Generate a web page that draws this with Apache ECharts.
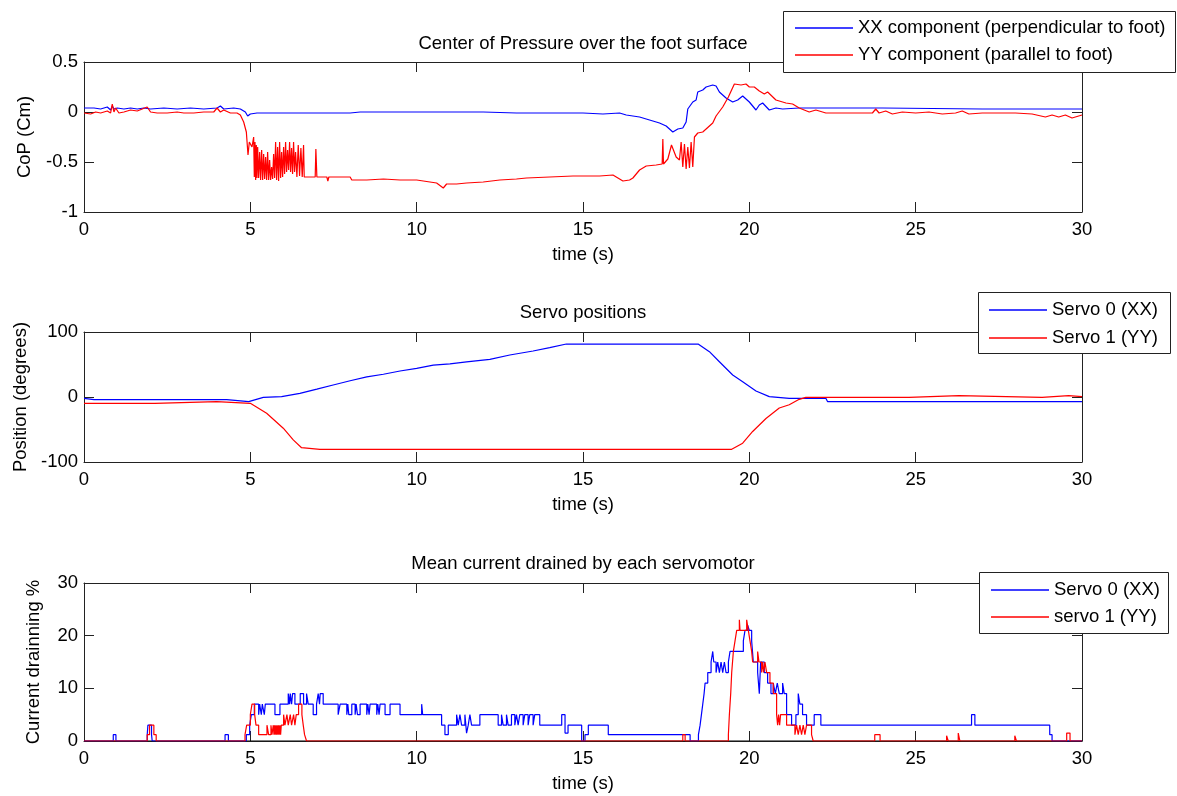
<!DOCTYPE html>
<html><head><meta charset="utf-8">
<script src="https://cdn.jsdelivr.net/npm/echarts/dist/echarts.min.js"></script>
<style>html,body{margin:0;padding:0;background:#fff}#c{width:1177px;height:796px}</style>
</head><body><div id="c"></div>
<script>
// ---------- DATA ----------
const titles = ['Center of Pressure over the foot surface', 'Servo positions', 'Mean current drained by each servomotor'];
const xName = 'time (s)';
const yNames = ['CoP (Cm)', 'Position (degrees)', 'Current drainning %'];
const legend1Names = ['XX component (perpendicular to foot)', 'YY component (parallel to foot)'];
const legend2Names = ['Servo 0 (XX)', 'Servo 1 (YY)'];
const legend3Names = ['Servo 0 (XX)', 'servo 1 (YY)'];
const xRange = [0, 30, 5];
const yRanges = [[-1, 0.5, 0.5], [-100, 100, 100], [0, 30, 10]];

// [time (s), CoP (cm)]
const copXX = [[0,0.04],[0.3,0.04],[0.5,0.03],[0.7,0.05],[0.8,0.02],[0.85,0.06],[0.9,0.03],[1.0,0.04],[1.2,0.03],[1.4,0.04],[1.6,0.03],[1.8,0.04],[2.0,0.03],[2.4,0.04],[2.8,0.03],[3.2,0.04],[3.6,0.03],[4.0,0.04],[4.1,0.06],[4.2,0.03],[4.5,0.04],[4.7,0.03],[4.85,0.0],[4.92,-0.04],[5.0,-0.02],[5.2,-0.01],[6.5,-0.01],[8.0,-0.01],[8.3,0.0],[9.0,0.0],[12.0,0.0],[13.0,-0.01],[15.0,-0.01],[15.6,-0.02],[16.1,-0.01],[16.3,-0.03],[16.7,-0.05],[17.0,-0.08],[17.3,-0.11],[17.5,-0.14],[17.7,-0.2],[17.85,-0.17],[18.0,-0.16],[18.1,-0.1],[18.15,0.03],[18.3,0.1],[18.4,0.12],[18.45,0.2],[18.6,0.22],[18.7,0.25],[18.9,0.27],[19.0,0.26],[19.1,0.2],[19.3,0.14],[19.5,0.1],[19.65,0.12],[19.8,0.16],[20.0,0.1],[20.2,0.02],[20.3,0.07],[20.4,0.09],[20.6,0.02],[20.8,0.04],[21.0,0.03],[21.5,0.04],[24.0,0.04],[27.0,0.03],[30.0,0.03]];
const copYY = [[0,-0.01],[0.2,-0.02],[0.35,0.0],[0.5,-0.01],[0.7,0.01],[0.8,-0.01],[0.85,0.08],[0.9,0.0],[0.95,0.04],[1.05,-0.01],[1.2,0.0],[1.4,0.02],[1.6,0.01],[1.75,0.03],[1.9,0.05],[2.0,0.0],[2.2,-0.01],[2.5,-0.01],[2.8,0.0],[3.0,-0.01],[3.3,-0.01],[3.6,0.0],[3.9,0.0],[4.0,0.04],[4.1,0.0],[4.2,0.02],[4.4,-0.01],[4.6,-0.01],[4.7,-0.03],[4.8,-0.1],[4.88,-0.2],[4.93,-0.43],[4.97,-0.3],[5.05,-0.35],[5.1,-0.25],[5.12,-0.65],[5.14,-0.3],[5.16,-0.68],[5.18,-0.33],[5.2,-0.66],[5.22,-0.35],[5.25,-0.66],[5.28,-0.4],[5.31,-0.68],[5.34,-0.38],[5.37,-0.68],[5.4,-0.42],[5.43,-0.67],[5.46,-0.45],[5.49,-0.68],[5.52,-0.4],[5.55,-0.68],[5.58,-0.48],[5.61,-0.68],[5.64,-0.55],[5.67,-0.67],[5.7,-0.42],[5.73,-0.66],[5.76,-0.3],[5.79,-0.68],[5.82,-0.35],[5.85,-0.69],[5.88,-0.3],[5.91,-0.66],[5.94,-0.4],[5.97,-0.65],[6.0,-0.35],[6.03,-0.62],[6.06,-0.3],[6.09,-0.6],[6.12,-0.38],[6.15,-0.58],[6.18,-0.3],[6.21,-0.6],[6.24,-0.36],[6.27,-0.62],[6.3,-0.3],[6.33,-0.6],[6.36,-0.4],[6.4,-0.65],[6.44,-0.33],[6.48,-0.64],[6.52,-0.36],[6.56,-0.65],[6.6,-0.33],[6.62,-0.65],[6.95,-0.65],[6.97,-0.37],[7.0,-0.65],[7.3,-0.65],[7.33,-0.69],[7.36,-0.65],[8.0,-0.65],[8.05,-0.68],[8.5,-0.68],[9.0,-0.67],[9.5,-0.68],[10.0,-0.68],[10.6,-0.71],[10.8,-0.76],[10.9,-0.72],[11.2,-0.72],[11.5,-0.71],[12.0,-0.7],[12.5,-0.68],[13.0,-0.67],[13.3,-0.66],[14.0,-0.65],[14.7,-0.64],[15.5,-0.64],[15.9,-0.63],[16.05,-0.66],[16.2,-0.69],[16.4,-0.68],[16.5,-0.66],[16.7,-0.58],[16.9,-0.54],[17.2,-0.53],[17.38,-0.52],[17.4,-0.27],[17.42,-0.52],[17.55,-0.47],[17.66,-0.33],[17.8,-0.45],[17.9,-0.48],[17.95,-0.3],[18.0,-0.55],[18.05,-0.32],[18.1,-0.57],[18.15,-0.35],[18.2,-0.56],[18.25,-0.3],[18.3,-0.55],[18.35,-0.25],[18.45,-0.21],[18.6,-0.2],[18.9,-0.11],[19.0,-0.04],[19.2,0.05],[19.37,0.15],[19.55,0.28],[19.6,0.3],[19.75,0.27],[19.9,0.28],[20.0,0.25],[20.15,0.25],[20.3,0.21],[20.45,0.18],[20.55,0.2],[20.8,0.12],[21.1,0.09],[21.3,0.08],[21.5,0.04],[21.8,0.0],[22.0,0.02],[22.3,-0.01],[23.7,-0.01],[23.8,0.03],[23.9,-0.01],[24.1,0.01],[24.3,-0.02],[24.6,0.0],[25.0,-0.01],[25.4,0.0],[25.8,-0.02],[26.2,-0.01],[26.4,0.01],[26.6,-0.02],[27.0,-0.01],[27.5,-0.01],[28.0,-0.01],[28.5,-0.02],[28.9,-0.05],[29.1,-0.03],[29.3,-0.05],[29.5,-0.03],[29.7,-0.06],[30.0,-0.03]];

// [time (s), position (degrees)]
const posServo0 = [[0,-2],[0.3,-4],[4.29,-4],[4.3,-7],[4.95,-7],[5.0,-6],[5.39,-0.5],[5.94,0.5],[6.49,5.6],[7.0,12],[7.49,18.5],[8.0,25],[8.5,31],[9.0,35],[9.5,40],[10.0,44],[10.5,49],[11.0,51],[11.5,54],[12.2,58],[12.8,64.6],[13.5,70.8],[14.0,75.9],[14.5,81.5],[18.46,81.5],[18.8,69.7],[19.1,54.3],[19.5,33.8],[19.8,23.6],[20.2,9.2],[20.6,0.5],[21.2,-2],[22.3,-2],[22.35,-7],[30,-7]];
const posServo1 = [[0,-9.7],[2.13,-9.7],[2.14,-7],[3.99,-7],[4.0,-9.7],[5.0,-9.7],[5.49,-25],[5.99,-48],[6.29,-66],[6.54,-78],[7.09,-80.5],[19.47,-80.5],[19.8,-71],[20.1,-53],[20.5,-33],[20.9,-17],[21.2,-12],[21.5,-3.6],[21.7,-0.5],[24.8,-0.5],[24.85,2],[26.3,2],[26.35,-0.5],[28.8,-0.5],[28.85,2],[29.6,2],[29.65,0.5],[30,0.5]];

// [time (s), current %] (value holds until next time)
const curServo0 = [[0,0],[0.88,1.2],[0.96,0],[1.9,1.2],[1.92,3],[2.03,1.2],[2.05,0],[4.24,1.2],[4.34,0],[4.88,1.2],[4.98,3],[5.03,5],[5.12,7],[5.25,5],[5.28,7],[5.33,5],[5.36,7],[5.42,5],[5.45,7],[5.74,5],[5.89,7],[6.14,9],[6.18,7],[6.2,9],[6.24,7],[6.27,9],[6.34,7],[6.5,9],[6.6,7],[6.69,9],[6.74,7],[6.89,5],[6.99,7],[7.04,9],[7.08,7],[7.1,9],[7.19,7],[7.64,5],[7.7,7],[7.9,5],[7.93,7],[7.96,5],[8.05,7],[8.15,5],[8.18,7],[8.22,5],[8.3,7],[8.5,5],[8.53,7],[8.57,5],[8.6,7],[8.8,5],[8.83,7],[8.87,5],[8.9,7],[9.05,5],[9.2,7],[9.5,5],[10.15,7],[10.18,5],[10.75,3],[10.85,1.2],[10.95,3],[11.2,5],[11.25,3],[11.3,5],[11.35,3],[11.45,5],[11.5,1.5],[11.55,3],[11.6,5],[11.65,3],[11.9,5],[12.45,3],[12.55,5],[12.6,3],[12.7,5],[12.75,3],[12.85,5],[12.95,3],[13.0,5],[13.05,3],[13.1,5],[13.2,3],[13.25,5],[13.35,3],[13.4,5],[13.5,3],[13.55,5],[13.7,3],[14.36,5],[14.46,1.5],[14.55,3],[14.96,0],[15.06,1.2],[15.16,3],[15.76,1.2],[18.22,0],[18.47,1.2],[18.52,3],[18.56,5],[18.6,7],[18.64,9],[18.67,11],[18.75,13],[18.85,15],[18.9,17],[18.93,15],[19.0,13],[19.05,15],[19.1,13],[19.15,15],[19.2,13],[19.25,15],[19.3,13],[19.37,15],[19.42,17],[19.82,19],[19.87,21],[19.95,22],[20.0,21],[20.07,19],[20.12,15],[20.25,13],[20.3,9],[20.34,15],[20.45,13],[20.55,11],[20.65,9],[20.72,11],[20.78,9],[20.84,11],[20.9,9],[21.0,11],[21.05,9],[21.12,5],[21.27,3],[21.4,5],[21.47,9],[21.52,7],[21.6,5],[21.72,3],[21.95,5],[22.15,3],[26.68,5],[26.78,3],[29.03,1.2],[29.1,0],[30,0]];
const curServo1 = [[0,0],[1.9,1.2],[1.97,3],[2.1,1.2],[2.17,0],[4.84,1.2],[4.89,3],[5.0,5],[5.05,7],[5.13,5],[5.17,3],[5.25,1.2],[5.5,3],[5.55,1.2],[5.62,3],[5.65,1.2],[5.69,3],[5.71,1.2],[5.73,3],[5.75,1.2],[5.77,3],[5.79,1.2],[5.81,3],[5.83,1.2],[5.85,3],[5.87,1.2],[5.89,3],[5.91,1.2],[5.93,3],[6.0,5],[6.04,3],[6.1,5],[6.14,3],[6.2,5],[6.24,3],[6.3,5],[6.34,3],[6.38,5],[6.45,7],[6.55,5],[6.59,3],[6.63,1.2],[6.69,0],[18.0,1.2],[18.07,0],[19.37,1.2],[19.4,5],[19.44,9],[19.47,13],[19.52,17],[19.57,19],[19.62,21],[19.7,23],[19.72,21],[19.92,23],[19.97,21],[20.02,19],[20.07,17],[20.1,15],[20.25,17],[20.29,15],[20.37,13],[20.4,15],[20.43,13],[20.47,15],[20.52,13],[20.62,11],[20.72,9],[20.82,5],[20.85,3],[20.88,5],[20.91,3],[20.94,5],[21.12,3],[21.37,1.2],[21.42,3],[21.47,1.2],[21.52,3],[21.57,1.2],[21.62,3],[21.67,1.2],[21.72,3],[21.87,1.2],[21.92,0],[23.77,1.2],[23.93,0],[25.93,1],[25.98,0],[26.28,1.5],[26.33,0],[27.98,1],[28.03,0],[29.54,1.5],[29.64,0],[30,0]];
const curBaseline = [[0,0],[30,0]];

// ---------- LAYOUT / STYLE ----------
const FONT = "'Liberation Sans', Arial, Helvetica, sans-serif";
const FS = 18.5;
const AXC = '#222';
const BLUE = '#0000ff', RED = '#ff0000';
const grids = [
  {left: 84, top: 62, width: 998, height: 150},
  {left: 84, top: 332, width: 998, height: 130},
  {left: 84, top: 583, width: 998, height: 158}
];
const titleY = [34, 303, 554];
const yNameGaps = [50, 53, 41];

const xAxes = [], yAxes = [];
grids.forEach((g, i) => {
  const common = {
    type: 'value', gridIndex: i, min: xRange[0], max: xRange[1], interval: xRange[2],
    axisLine: {show: true, onZero: false, lineStyle: {color: AXC, width: 1}},
    axisTick: {show: true, inside: true, length: 10, lineStyle: {color: AXC}},
    splitLine: {show: false}
  };
  xAxes.push(Object.assign({}, common, {
    position: 'bottom',
    axisLabel: {show: true, margin: 8, color: '#000', fontSize: FS, fontFamily: FONT},
    name: xName, nameLocation: 'middle', nameGap: 33,
    nameTextStyle: {color: '#000', fontSize: FS, fontFamily: FONT}
  }));
  xAxes.push(Object.assign({}, common, {position: 'top', axisLabel: {show: false}}));
  const yr = yRanges[i];
  const ycommon = {
    type: 'value', gridIndex: i, min: yr[0], max: yr[1], interval: yr[2],
    axisLine: {show: true, onZero: false, lineStyle: {color: AXC, width: 1}},
    axisTick: {show: true, inside: true, length: 10, lineStyle: {color: AXC}},
    splitLine: {show: false}
  };
  yAxes.push(Object.assign({}, ycommon, {
    position: 'left',
    axisLabel: {show: true, margin: 6, color: '#000', fontSize: FS, fontFamily: FONT},
    name: yNames[i], nameLocation: 'middle', nameGap: yNameGaps[i], nameRotate: 90,
    nameTextStyle: {color: '#000', fontSize: FS, fontFamily: FONT}
  }));
  yAxes.push(Object.assign({}, ycommon, {position: 'right', axisLabel: {show: false}}));
});

function line(name, data, color, gi, step) {
  return {
    name: name, type: 'line', data: data, xAxisIndex: gi * 2, yAxisIndex: gi * 2,
    showSymbol: false, symbol: 'none', step: step || false, animation: false,
    lineStyle: {color: color, width: 1.2}, itemStyle: {color: color}
  };
}

const series = [
  line(legend1Names[0], copXX, BLUE, 0),
  line(legend1Names[1], copYY, RED, 0),
  line(legend2Names[0], posServo0, BLUE, 1),
  line(legend2Names[1], posServo1, RED, 1),
  Object.assign(line('', curBaseline, '#000', 2), {silent: true}),
  line(legend3Names[0], curServo0, BLUE, 2, 'end'),
  line(legend3Names[1], curServo1, RED, 2, 'end')
];

function legendBox(x1, y1, x2, y2) {
  return {type: 'rect', z: 50, shape: {x: x1 + 0.5, y: y1 + 0.5, width: x2 - x1, height: y2 - y1},
    style: {fill: '#fff', stroke: '#222', lineWidth: 1}};
}
function legend(names, left, top, padLeft, gap) {
  return {
    data: names, orient: 'vertical', left: left, top: top, padding: [0, 0, 0, padLeft],
    itemGap: gap, itemWidth: 58, itemHeight: 1.5, icon: 'rect', z: 60,
    selectedMode: false,
    textStyle: {color: '#000', fontSize: FS, fontFamily: FONT, lineHeight: 22}
  };
}

const option = {
  animation: false,
  backgroundColor: '#fff',
  title: titles.map((t, i) => ({
    text: t, left: 583, top: titleY[i], textAlign: 'center', padding: 0,
    textStyle: {color: '#000', fontSize: FS, fontWeight: 'normal', fontFamily: FONT}
  })),
  grid: grids,
  xAxis: xAxes,
  yAxis: yAxes,
  series: series,
  legend: [
    legend(legend1Names, 783, 17, 12, 5),
    legend(legend2Names, 978, 299, 11, 6),
    legend(legend3Names, 979, 579, 12, 5)
  ],
  graphic: [
    legendBox(783, 11, 1175, 72),
    legendBox(978, 292, 1170, 353),
    legendBox(979, 572, 1168, 633)
  ]
};

const chart = echarts.init(document.getElementById('c'), null, {renderer: 'canvas'});
chart.setOption(option);
</script></body></html>
